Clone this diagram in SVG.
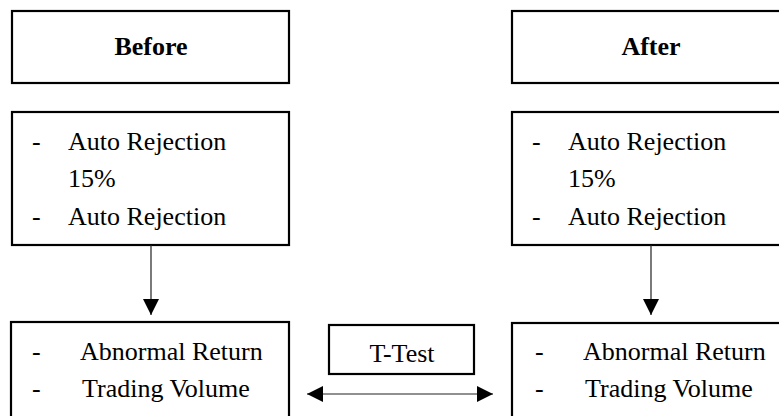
<svg xmlns="http://www.w3.org/2000/svg" width="779" height="416" viewBox="0 0 779 416">
<defs>
<style>
.box{fill:#fff;stroke:#000;stroke-width:2.2}
.t{font-family:"Liberation Serif","Times New Roman",serif;font-size:26px;fill:#000}
.h{font-weight:bold;text-anchor:middle}
.c{stroke:#222;stroke-width:1.2;fill:none}
</style>
<marker id="ah" viewBox="0 0 15 15" refX="15" refY="7.5" markerWidth="16" markerHeight="16" markerUnits="userSpaceOnUse" orient="auto-start-reverse">
<path d="M0,0 L15,7.5 L0,15 Z" fill="#000"/>
</marker>
</defs>
<rect width="779" height="416" fill="#fff"/>
<g id="before">
<rect class="box" x="12" y="11" width="277" height="72"/>
<text class="t h" x="151" y="55">Before</text>
</g>
<g id="after">
<rect class="box" x="512" y="11" width="290" height="72"/>
<text class="t h" x="651" y="55">After</text>
</g>
<g id="before-rules">
<rect class="box" x="12" y="112" width="277" height="133"/>
<text class="t" x="32" y="150">-</text>
<text class="t" x="68" y="150">Auto Rejection</text>
<text class="t" x="68" y="187">15%</text>
<text class="t" x="32" y="225">-</text>
<text class="t" x="68" y="225">Auto Rejection</text>
</g>
<g id="after-rules">
<rect class="box" x="512" y="112" width="290" height="133"/>
<text class="t" x="532" y="150">-</text>
<text class="t" x="568" y="150">Auto Rejection</text>
<text class="t" x="568" y="187">15%</text>
<text class="t" x="532" y="225">-</text>
<text class="t" x="568" y="225">Auto Rejection</text>
</g>
<g id="before-results">
<rect class="box" x="11" y="322" width="278" height="120"/>
<text class="t" x="32" y="360">-</text>
<text class="t" x="80" y="360">Abnormal Return</text>
<text class="t" x="32" y="397">-</text>
<text class="t" x="82" y="397">Trading Volume</text>
</g>
<g id="after-results">
<rect class="box" x="512" y="323" width="290" height="120"/>
<text class="t" x="535" y="360">-</text>
<text class="t" x="583" y="360">Abnormal Return</text>
<text class="t" x="535" y="397">-</text>
<text class="t" x="585" y="397">Trading Volume</text>
</g>
<g id="ttest">
<rect class="box" x="329" y="325" width="145" height="49"/>
<text class="t" x="402" y="362" text-anchor="middle">T-Test</text>
</g>
<g id="connectors">
<line class="c" x1="151" y1="245" x2="151" y2="315" marker-end="url(#ah)"/>
<line class="c" x1="651" y1="245" x2="651" y2="315" marker-end="url(#ah)"/>
<line class="c" x1="307" y1="394" x2="493" y2="394" marker-start="url(#ah)" marker-end="url(#ah)"/>
</g>
</svg>
